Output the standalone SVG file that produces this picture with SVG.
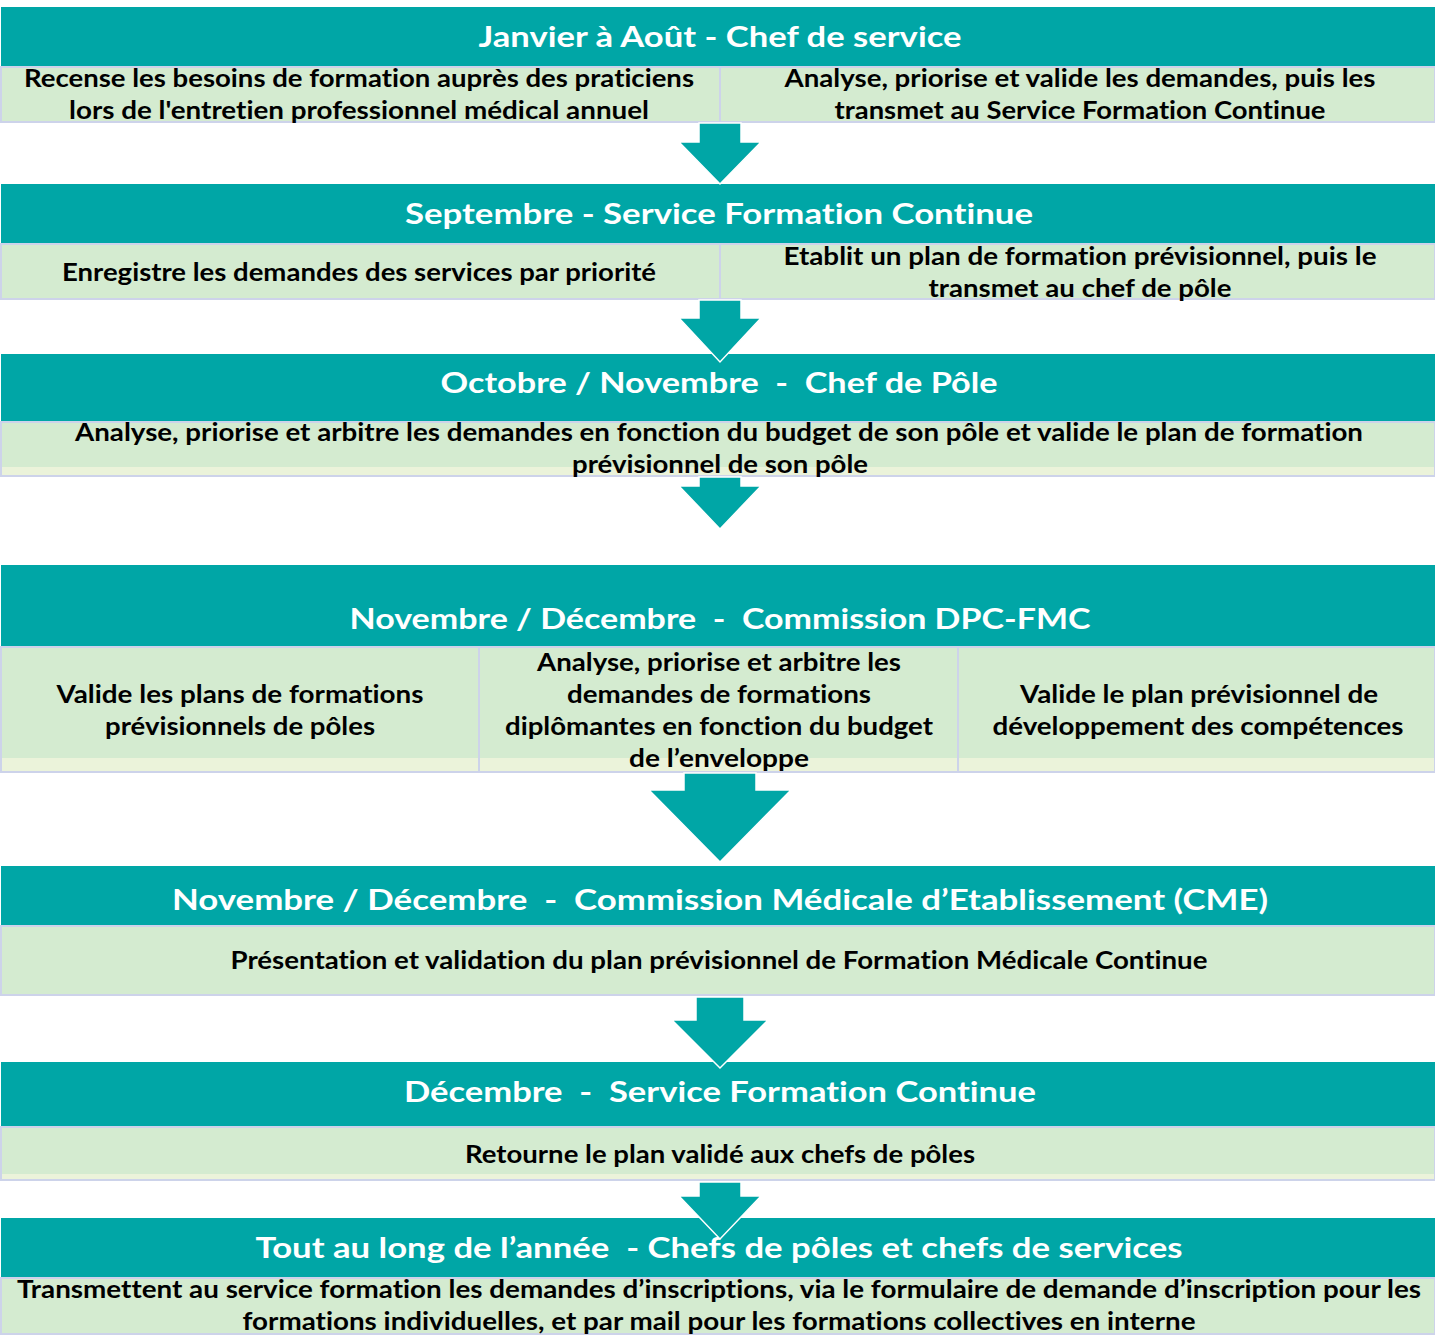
<svg xmlns="http://www.w3.org/2000/svg" width="1435" height="1336" viewBox="0 0 1435 1336">
<style>
.hd{fill:#00a6a6}
.cell{fill:#d4ebd0;stroke:#cdd3ea;stroke-width:2}
.strip{fill:#ebf3da}
.ht{font-family:Lato,"Liberation Sans",sans-serif;font-weight:700;font-size:29px;fill:#ffffff;text-anchor:middle;font-variant-ligatures:none}
.bt{font-family:Lato,"Liberation Sans",sans-serif;font-weight:700;font-size:24px;fill:#000000;text-anchor:middle;font-variant-ligatures:none}
.arr{fill:#00a6a6;stroke:#ffffff;stroke-width:1.5;stroke-linejoin:miter}
</style>
<rect width="1435" height="1336" fill="#ffffff"/>

<g id="band1">
<rect class="hd" x="1" y="7" width="1434" height="60"/>
<text class="ht" x="720" y="47" textLength="483" lengthAdjust="spacingAndGlyphs">Janvier à Août - Chef de service</text>
<rect class="cell" x="1" y="67" width="719" height="55"/>
<rect class="cell" x="720" y="67" width="715" height="55"/>
<text class="bt" x="359" y="87" textLength="670" lengthAdjust="spacingAndGlyphs">Recense les besoins de formation auprès des praticiens</text>
<text class="bt" x="359" y="119" textLength="580" lengthAdjust="spacingAndGlyphs">lors de l'entretien professionnel médical annuel</text>
<text class="bt" x="1080" y="87" textLength="591" lengthAdjust="spacingAndGlyphs">Analyse, priorise et valide les demandes, puis les</text>
<text class="bt" x="1080" y="119" textLength="491" lengthAdjust="spacingAndGlyphs">transmet au Service Formation Continue</text>
</g>

<g id="band2">
<rect class="hd" x="1" y="184" width="1434" height="60"/>
<text class="ht" x="719" y="224" textLength="628" lengthAdjust="spacingAndGlyphs">Septembre - Service Formation Continue</text>
<rect class="cell" x="1" y="244" width="719" height="55"/>
<rect class="cell" x="720" y="244" width="715" height="55"/>
<text class="bt" x="359" y="281" textLength="594" lengthAdjust="spacingAndGlyphs">Enregistre les demandes des services par priorité</text>
<text class="bt" x="1080" y="265" textLength="593" lengthAdjust="spacingAndGlyphs">Etablit un plan de formation prévisionnel, puis le</text>
<text class="bt" x="1080" y="297" textLength="303" lengthAdjust="spacingAndGlyphs">transmet au chef de pôle</text>
</g>

<g id="band3">
<rect class="hd" x="1" y="354" width="1434" height="68"/>
<text class="ht" x="719" y="393" textLength="557" lengthAdjust="spacingAndGlyphs" xml:space="preserve">Octobre / Novembre  -  Chef de Pôle</text>
<rect class="cell" x="1" y="422" width="1434" height="54"/>
<rect class="strip" x="2" y="467" width="1432" height="8"/>
<text class="bt" x="719" y="441" textLength="1288" lengthAdjust="spacingAndGlyphs">Analyse, priorise et arbitre les demandes en fonction du budget de son pôle et valide le plan de formation</text>
<text class="bt" x="720" y="473" textLength="296" lengthAdjust="spacingAndGlyphs">prévisionnel de son pôle</text>
</g>

<g id="band4">
<rect class="hd" x="1" y="565" width="1434" height="82"/>
<text class="ht" x="720" y="629" textLength="741" lengthAdjust="spacingAndGlyphs" xml:space="preserve">Novembre / Décembre  -  Commission DPC-FMC</text>
<rect class="cell" x="1" y="647" width="478" height="125"/>
<rect class="cell" x="479" y="647" width="479" height="125"/>
<rect class="cell" x="958" y="647" width="477" height="125"/>
<rect class="strip" x="2" y="758" width="476" height="13"/>
<rect class="strip" x="480" y="758" width="477" height="13"/>
<rect class="strip" x="959" y="758" width="475" height="13"/>
<text class="bt" x="240" y="703" textLength="367" lengthAdjust="spacingAndGlyphs">Valide les plans de formations</text>
<text class="bt" x="240" y="735" textLength="270" lengthAdjust="spacingAndGlyphs">prévisionnels de pôles</text>
<text class="bt" x="719" y="671" textLength="364" lengthAdjust="spacingAndGlyphs">Analyse, priorise et arbitre les</text>
<text class="bt" x="719" y="703" textLength="304" lengthAdjust="spacingAndGlyphs">demandes de formations</text>
<text class="bt" x="719" y="735" textLength="428" lengthAdjust="spacingAndGlyphs">diplômantes en fonction du budget</text>
<text class="bt" x="719" y="767" textLength="180" lengthAdjust="spacingAndGlyphs">de l’enveloppe</text>
<text class="bt" x="1199" y="703" textLength="358" lengthAdjust="spacingAndGlyphs">Valide le plan prévisionnel de</text>
<text class="bt" x="1198" y="735" textLength="411" lengthAdjust="spacingAndGlyphs">développement des compétences</text>
</g>

<g id="band5">
<rect class="hd" x="1" y="866" width="1434" height="60"/>
<text class="ht" x="720" y="910" textLength="1096" lengthAdjust="spacingAndGlyphs" xml:space="preserve">Novembre / Décembre  -  Commission Médicale d’Etablissement (CME)</text>
<rect class="cell" x="1" y="926" width="1434" height="69"/>
<text class="bt" x="719" y="969" textLength="977" lengthAdjust="spacingAndGlyphs">Présentation et validation du plan prévisionnel de Formation Médicale Continue</text>
</g>

<g id="band6">
<rect class="hd" x="1" y="1062" width="1434" height="65"/>
<text class="ht" x="720" y="1102" textLength="632" lengthAdjust="spacingAndGlyphs" xml:space="preserve">Décembre  -  Service Formation Continue</text>
<rect class="cell" x="1" y="1127" width="1434" height="53"/>
<rect class="strip" x="2" y="1174" width="1432" height="5"/>
<text class="bt" x="720" y="1163" textLength="510" lengthAdjust="spacingAndGlyphs">Retourne le plan validé aux chefs de pôles</text>
</g>

<g id="band7">
<rect class="hd" x="1" y="1218" width="1434" height="60"/>
<text class="ht" x="719" y="1258" textLength="927" lengthAdjust="spacingAndGlyphs" xml:space="preserve">Tout au long de l’année  - Chefs de pôles et chefs de services</text>
<rect class="cell" x="1" y="1278" width="1434" height="56"/>
<text class="bt" x="719" y="1298" textLength="1404" lengthAdjust="spacingAndGlyphs">Transmettent au service formation les demandes d’inscriptions, via le formulaire de demande d’inscription pour les</text>
<text class="bt" x="719" y="1330" textLength="953" lengthAdjust="spacingAndGlyphs">formations individuelles, et par mail pour les formations collectives en interne</text>
</g>

<g id="connectors">
<polygon class="arr" points="699,123 741,123 741,142 761,142 720,184 679,142 699,142"/>
<polygon class="arr" points="699,300 741,300 741,318 761,318 720,362 679,318 699,318"/>
<polygon class="arr" points="699,477 741,477 741,486 761,486 720,529 679,486 699,486"/>
<polygon class="arr" points="684,773 756,773 756,790 791,790 720,862 649,790 684,790"/>
<polygon class="arr" points="696,997 744,997 744,1020 768,1020 720,1068 672,1020 696,1020"/>
<polygon class="arr" points="699,1182 741,1182 741,1196 761,1196 720,1239 679,1196 699,1196"/>
</g>
</svg>
